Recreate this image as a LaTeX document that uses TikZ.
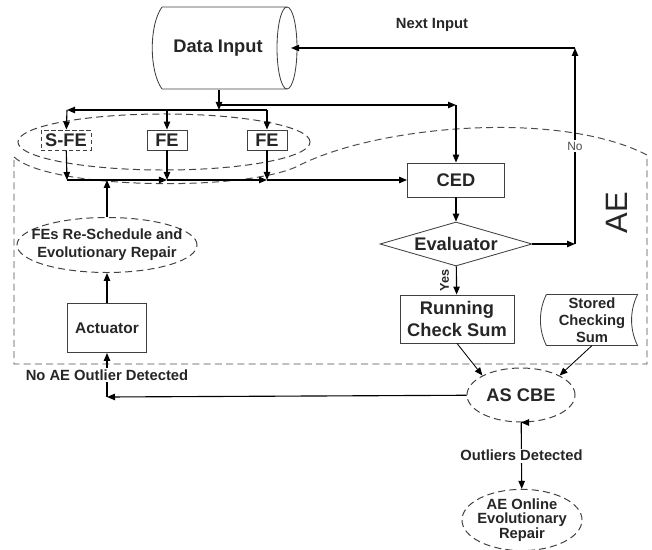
\documentclass[tikz,border=0pt]{standalone}
\usepackage{fontspec}
\setmainfont{Liberation Sans}
\usetikzlibrary{shapes.geometric,arrows.meta}

\begin{document}
\begin{tikzpicture}[x=0.025cm, y=-0.025cm, thick, >={Triangle[length=2mm,width=1.6mm]},
	every node/.style={text=black!85},
	box/.style={rectangle,draw=black!75,line width=0.6pt,inner sep=1pt,font=\fontsize{13}{15}\selectfont\bfseries},
	grp/.style={ellipse,draw=black!75,line width=0.7pt,dash pattern=on 5pt off 3pt,inner sep=0pt,align=center},
	lbl/.style={fill=white,inner sep=1pt,font=\fontsize{10.5}{12}\selectfont\bfseries}]
	
	\useasboundingbox (0,0) rectangle (652,550);
	
	% data source and feature extractors
	\node[minimum width=3.625cm,minimum height=2.05cm,
		font=\fontsize{13}{15}\selectfont\bfseries] (din) at (218,48) {Data Input};
	\draw[black!75,line width=0.6pt] (162,7) -- (287,7) (162,89) -- (287,89)
		(162,7) .. controls (149,25) and (149,71) .. (162,89)
		(287,48) ellipse [x radius=0.25cm, y radius=1.025cm];
	\node[grp,minimum width=7.3cm,minimum height=1.4cm] (feg) at (164,142) {};
	\node[box,dash pattern=on 3pt off 2pt,minimum width=1.25cm,minimum height=0.5cm] (sfe) at (66,140) {S-FE};
	\node[box,minimum width=1cm,minimum height=0.5cm] (fe1) at (167,140) {FE};
	\node[box,minimum width=1cm,minimum height=0.5cm] (fe2) at (267,140) {FE};
	
	% evaluation chain
	\node[box,minimum width=2.425cm,minimum height=0.85cm] (ced) at (456,180) {CED};
	\node[diamond,draw=black!75,line width=0.6pt,aspect=3.5,inner sep=0pt,minimum width=3.8cm,minimum height=1.1cm,
		font=\fontsize{13}{15}\selectfont\bfseries] (eval) at (456,244) {Evaluator};
	\node[box,align=center,minimum width=2.85cm,minimum height=1.2cm] (rcs) at (457,319) {Running\\Check Sum};
	\node[inner sep=0pt,align=center,minimum width=2.25cm,minimum height=1.25cm,
		font=\fontsize{10.5}{12}\selectfont\bfseries] (scs) at (592,320) {Stored\\Checking\\Sum};
	\draw[black!75,line width=0.6pt] (scs.north west) -- (scs.north east)
		.. controls +(-0.2cm,-0.4cm) and +(-0.2cm,0.4cm) .. (scs.south east)
		-- (scs.south west)
		.. controls +(-0.2cm,0.4cm) and +(-0.2cm,-0.4cm) .. (scs.north west);
	\node[grp,minimum width=2.7cm,minimum height=1.35cm,font=\fontsize{13}{15}\selectfont\bfseries] (ascbe) at (521,395) {AS CBE};
	\node[grp,inner xsep=-0.3cm,minimum width=3cm,minimum height=1.5cm,font=\fontsize{10.5}{10.5}\selectfont\bfseries] (online) at (522,520) {AE Online\\Evolutionary\\Repair};
	
	% repair side
	\node[box,minimum width=1.975cm,minimum height=1.225cm,font=\fontsize{11}{13}\selectfont\bfseries] (act) at (107,328) {Actuator};
	\node[grp,inner xsep=-0.6cm,minimum width=4.5cm,minimum height=1.375cm,font=\fontsize{10.5}{12.8}\selectfont\bfseries] (rep) at (107,245) {FEs Re-Schedule and\\Evolutionary Repair};
	
	% AE boundary
	\draw[dash pattern=on 5pt off 3pt,black!70,line width=0.7pt] (14,157) .. controls (50,190) and (250,192) .. (300,165)
		.. controls (380,125) and (560,110) .. (647,155) -- (647,364) -- (14,364) -- cycle;
	\node[rotate=90,font=\fontsize{22}{24}\selectfont] (ae) at (617,213) {AE};
	
	% junction points
	\coordinate (dsplit) at (219,110);
	\coordinate (l1) at (67,110);
	\coordinate (l3) at (267,110);
	\coordinate (r0) at (219,105);
	\coordinate (r1) at (456,105);
	\coordinate (m0) at (67,180);
	\coordinate (m1) at (167,180);
	\coordinate (m2) at (267,180);
	\coordinate (nx) at (575,244);
	\coordinate (ny) at (575,48);
	\coordinate (c0) at (107,397);
	
	\draw[->] (din.south -| dsplit) -- (dsplit);
	\draw[->] (dsplit) -- (l1);
	\draw (dsplit) -- (l3);
	\draw[->] (l1) -- (sfe);
	\draw[->] (fe1 |- dsplit) -- (fe1);
	\draw[->] (l3) -- (fe2);
	\draw[->] (r0) -- (r1);
	\draw[->] (r1) -- (ced);
	
	\draw[->] (sfe) -- (m0);
	\draw[->] (fe1) -- (m1);
	\draw[->] (fe2) -- (m2);
	\draw[->] (m0) -- (m1);
	\draw[->] (m1) -- (m2);
	\draw[->] (m2) -- (ced);
	
	\draw[->] (ced) -- (eval);
	\draw[->] (eval) -- node[rotate=90,anchor=south,inner sep=5pt,font=\fontsize{9}{10}\selectfont\bfseries] {Yes} (rcs);
	\draw[->] (eval) -- (nx);
	\draw[->] (nx) -- node[fill=white,inner sep=1pt,text=black!70,font=\fontsize{8.5}{9}\selectfont] {No} (ny);
	\draw[->] (ny) -- (din);
	\node[font=\fontsize{10.5}{12}\selectfont\bfseries] (nlbl) at (432,25) {Next Input};
	
	\draw[->,semithick] (rcs.south) -- (ascbe.north west);
	\draw[->,semithick] (scs.south) -- (ascbe.north east);
	\draw[->] (ascbe) -- (c0);
	\draw[->] (c0) -- node[lbl] {No AE Outlier Detected} (act);
	\draw[->] (act) -- (rep);
	\draw[->] (rep) -- (rep |- m0);
	
	\draw[->] ([xshift=0.15cm]ascbe.south) -- (ascbe.south);
	\draw[->] (ascbe) -- node[lbl] {Outliers Detected} (online);
\end{tikzpicture}
\end{document}
